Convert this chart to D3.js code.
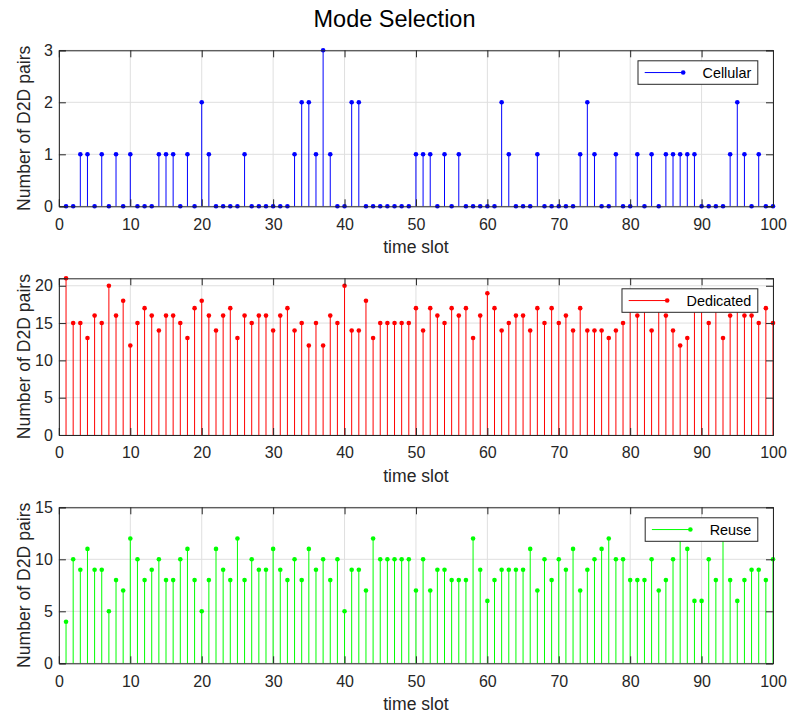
<!DOCTYPE html>
<html><head><meta charset="utf-8">
<script src="https://cdn.jsdelivr.net/npm/d3@7"></script>
<style>
body{margin:0;background:#fff}
svg{display:block}
text{font-family:"Liberation Sans",Arial,Helvetica,sans-serif;fill:#262626}
</style>
</head><body>
<svg id="chart" width="789" height="716"></svg>
<script>
const titleText = "Mode Selection";
const xLabelText = "time slot";
const yLabelText = "Number of D2D pairs";
const timeSlots = d3.range(1, 101);
const cellular = [
  0,0,1,1,0,1,0,1,0,1,
  0,0,0,1,1,1,0,1,0,2,
  1,0,0,0,0,1,0,0,0,0,
  0,0,1,2,2,1,3,1,0,0,
  2,2,0,0,0,0,0,0,0,1,
  1,1,0,1,0,1,0,0,0,0,
  0,2,1,0,0,0,1,0,0,0,
  0,0,1,2,1,0,0,1,0,0,
  1,0,1,0,1,1,1,1,1,0,
  0,0,0,1,2,1,0,1,0,0
];
const dedicated = [
  21,15,15,13,16,15,20,16,18,12,
  15,17,16,14,16,16,15,13,17,18,
  16,14,16,17,13,16,15,16,16,14,
  16,17,14,15,12,15,12,16,15,20,
  14,14,18,13,15,15,15,15,15,17,
  14,17,16,15,17,16,17,13,16,19,
  17,14,15,16,16,14,17,15,17,15,
  16,14,17,14,14,14,13,14,15,17,
  16,18,14,17,16,14,12,13,18,17,
  15,18,13,16,17,16,16,15,17,15
];
const reuse = [
  4,10,9,11,9,9,5,8,7,12,
  10,8,9,10,8,8,10,11,8,5,
  8,11,9,8,12,8,10,9,9,11,
  9,8,10,8,11,9,10,8,10,5,
  9,9,7,12,10,10,10,10,10,7,
  10,7,9,9,8,8,8,12,9,6,
  8,9,9,9,9,11,7,10,8,10,
  9,11,7,9,10,11,12,10,10,8,
  8,8,10,7,8,10,12,11,6,6,
  10,8,13,8,6,8,9,9,8,10
];
const seriesNames = ["Cellular", "Dedicated", "Reuse"];
const seriesColors = ["#0000ff", "#ff0000", "#00ff00"];
const xTicks = [0,10,20,30,40,50,60,70,80,90,100];
const yTicksList = [[0,1,2,3],[0,5,10,15,20],[0,5,10,15]];
const yMaxList = [3, 21, 15];

const seriesData = [cellular, dedicated, reuse];
const svg = d3.select("#chart");
const axisColor = "#262626";
const gridColor = "#dfdfdf";
const left = 58.9, right = 773;
const panelTops = [50.3, 278.3, 507.3];
const panelBottoms = [206.3, 435, 663.3];
const tickFont = 16, labelFont = 17.6, legendFont = 14.4;

svg.append("text")
  .attr("x", 394.5).attr("y", 26.5)
  .attr("text-anchor", "middle")
  .style("font-size", "23.5px")
  .style("fill", "#000")
  .text(titleText);

const x = d3.scaleLinear().domain([0, 100]).range([left, right]);

seriesData.forEach((vals, i) => {
  const top = panelTops[i], bottom = panelBottoms[i];
  const y = d3.scaleLinear().domain([0, yMaxList[i]]).range([bottom, top]);
  const g = svg.append("g");
  const color = seriesColors[i];

  // grid
  g.append("g").selectAll("line").data(xTicks).join("line")
    .attr("x1", d => x(d)).attr("x2", d => x(d))
    .attr("y1", top).attr("y2", bottom)
    .attr("stroke", gridColor).attr("stroke-width", 1);
  g.append("g").selectAll("line").data(yTicksList[i]).join("line")
    .attr("x1", left).attr("x2", right)
    .attr("y1", d => y(d)).attr("y2", d => y(d))
    .attr("stroke", gridColor).attr("stroke-width", 1);

  // stems
  g.append("g").selectAll("line").data(timeSlots).join("line")
    .attr("x1", d => x(d)).attr("x2", d => x(d))
    .attr("y1", y(0)).attr("y2", (d, k) => y(vals[k]))
    .attr("stroke", color).attr("stroke-width", 1);
  g.append("g").selectAll("circle").data(timeSlots).join("circle")
    .attr("cx", d => x(d)).attr("cy", (d, k) => y(vals[k]))
    .attr("r", 2.3).attr("fill", color);

  // axes (ticks inward)
  const ax = g.append("g").attr("transform", `translate(0,${bottom})`)
    .call(d3.axisBottom(x).tickValues(xTicks).tickSize(-7).tickPadding(12).tickFormat(d3.format("d")));
  const axT = g.append("g").attr("transform", `translate(0,${top})`)
    .call(d3.axisTop(x).tickValues(xTicks).tickSize(-7).tickFormat(""));
  const ay = g.append("g").attr("transform", `translate(${left},0)`)
    .call(d3.axisLeft(y).tickValues(yTicksList[i]).tickSize(-7).tickPadding(6).tickFormat(d3.format("d")));
  const ayR = g.append("g").attr("transform", `translate(${right},0)`)
    .call(d3.axisRight(y).tickValues(yTicksList[i]).tickSize(-7).tickFormat(""));
  [ax, axT, ay, ayR].forEach(a => {
    a.selectAll("path.domain").attr("stroke", axisColor).attr("stroke-width", 1);
    a.selectAll(".tick line").attr("stroke", axisColor).attr("stroke-width", 1);
    a.selectAll(".tick text").style("font-size", tickFont + "px").style("font-family", '"Liberation Sans",Arial,sans-serif').attr("fill", axisColor);
  });
  ax.selectAll(".tick text").attr("dy", "0.71em");

  // labels
  g.append("text")
    .attr("x", (left + right) / 2).attr("y", bottom + 46.5)
    .attr("text-anchor", "middle")
    .style("font-size", labelFont + "px")
    .text(xLabelText);
  g.append("text")
    .attr("transform", `translate(29.5,${(top + bottom) / 2}) rotate(-90)`)
    .attr("text-anchor", "middle")
    .style("font-size", labelFont + "px")
    .text(yLabelText);

  // legend
  const lg = g.append("g");
  const boxRight = 757.8, boxTop = top + 10.5, boxH = 23.5;
  const txt = lg.append("text").style("font-size", legendFont + "px").text(seriesNames[i]);
  const tw = txt.node().getComputedTextLength();
  const boxW = 6.7 + 38.5 + 19.3 + tw + 6.5;
  const boxLeft = boxRight - boxW;
  lg.insert("rect", "text")
    .attr("x", boxLeft).attr("y", boxTop).attr("width", boxW).attr("height", boxH)
    .attr("fill", "#fff").attr("stroke", axisColor).attr("stroke-width", 1);
  const ly = boxTop + boxH / 2;
  lg.append("line")
    .attr("x1", boxLeft + 6.7).attr("x2", boxLeft + 45.2)
    .attr("y1", ly).attr("y2", ly)
    .attr("stroke", color).attr("stroke-width", 1);
  lg.append("circle").attr("cx", boxLeft + 45.2).attr("cy", ly).attr("r", 2.3).attr("fill", color);
  txt.attr("x", boxLeft + 64.5).attr("y", ly + 5.2).style("fill", "#000");
});
</script>
</body></html>
